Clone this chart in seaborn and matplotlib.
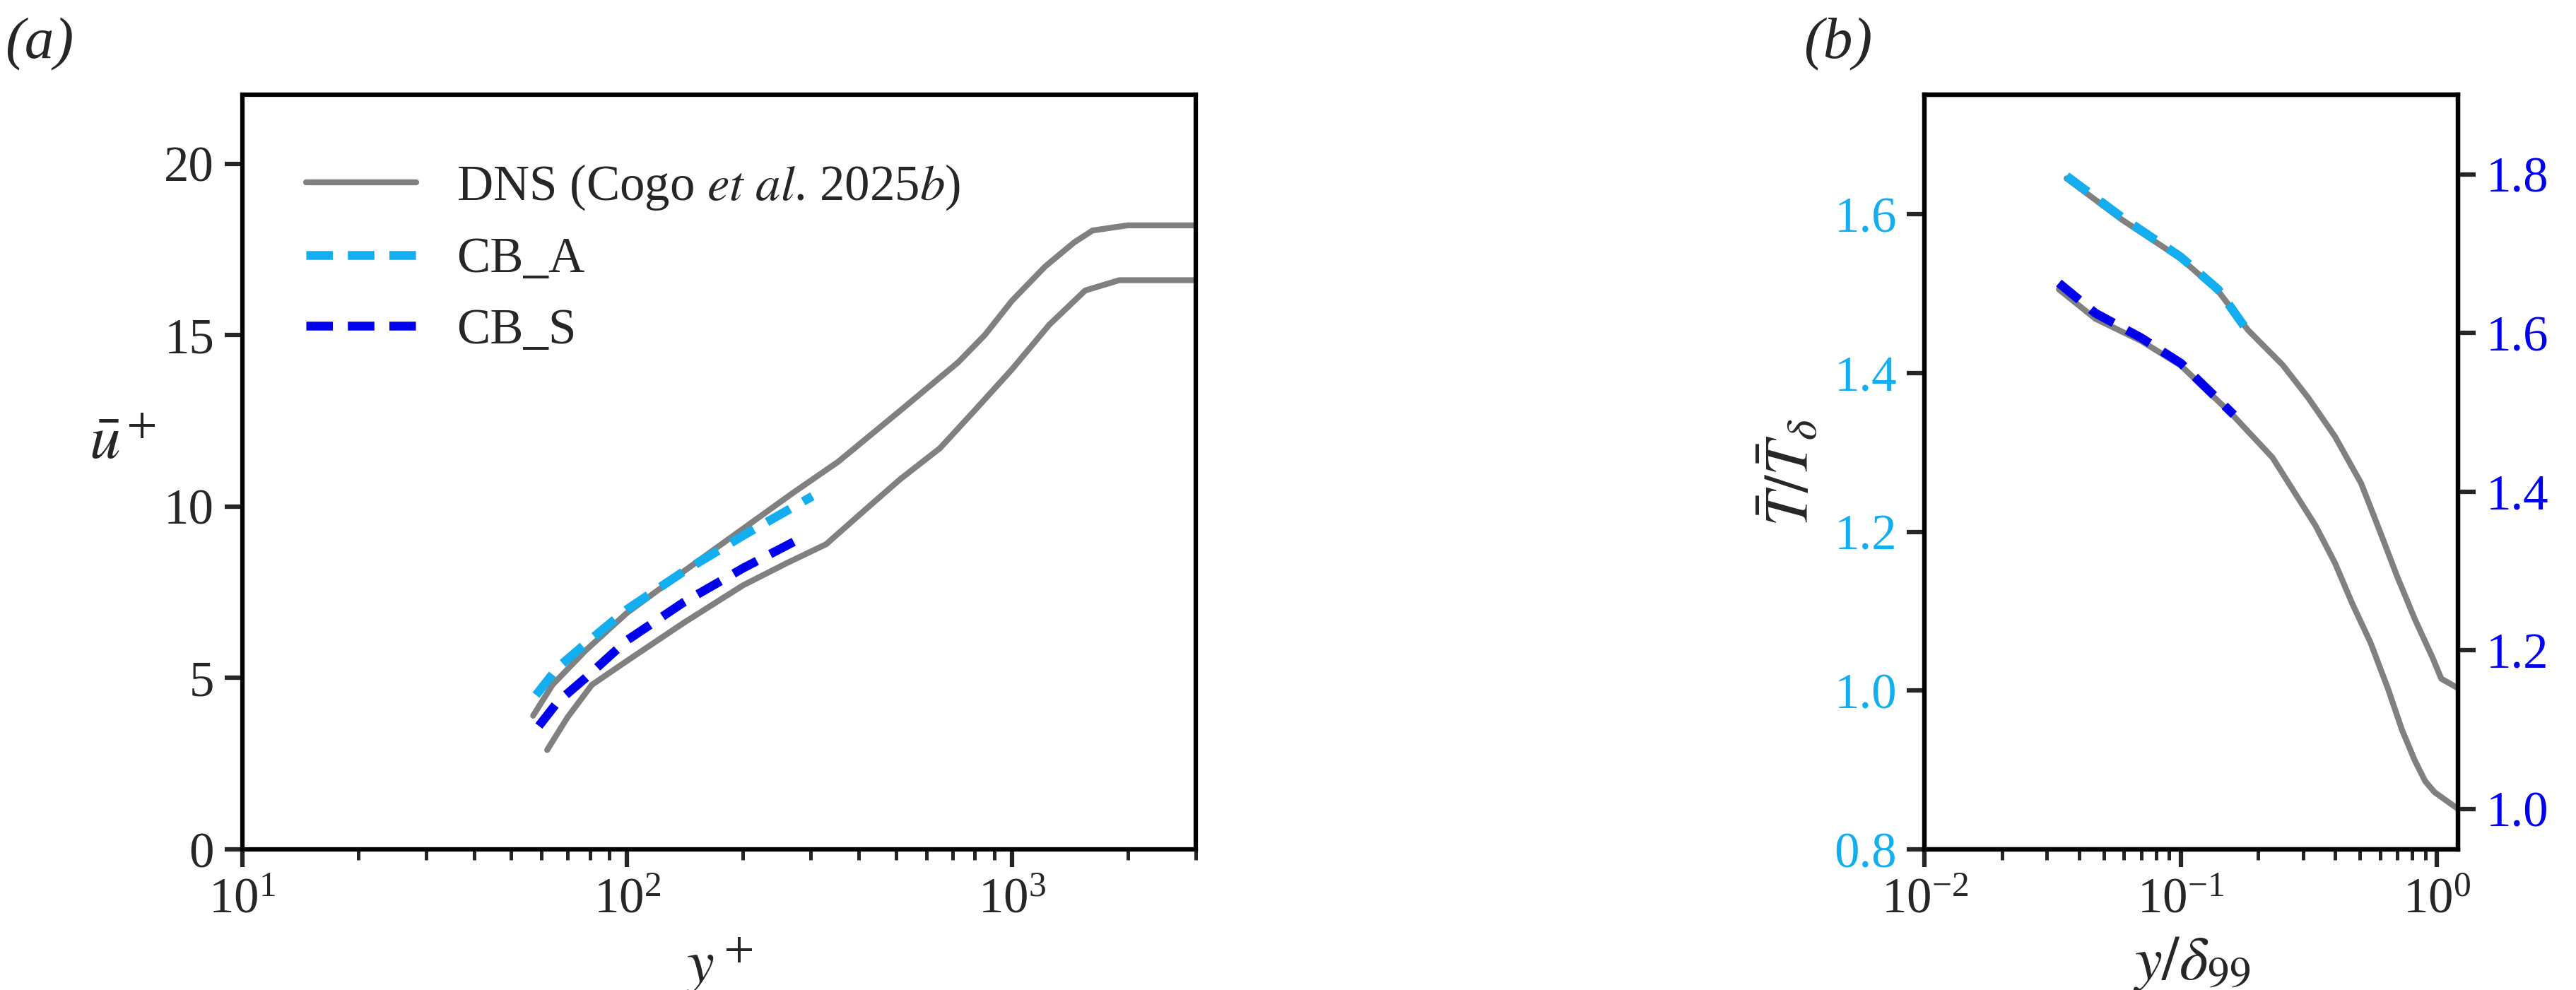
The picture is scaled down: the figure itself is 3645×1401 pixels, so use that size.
import numpy as np
import pandas as pd
import seaborn as sns
import matplotlib.pyplot as plt

sns.set_theme(style="ticks")
plt.rcParams["font.family"] = ["Liberation Serif", "DejaVu Serif"]
plt.rcParams["mathtext.fontset"] = "stix"
plt.rcParams["font.size"] = 17

GRAY = "#808080"
C_A = "#12AEF0"
C_S = "#0000EE"

# panel (a): u+ vs y+
dns_up_x = [57, 64, 78, 100, 140, 200, 270, 353, 513, 724, 850, 1000, 1220, 1450, 1620, 2000, 3000]
dns_up_y = [3.9, 4.8, 5.8, 6.9, 8.1, 9.35, 10.4, 11.3, 12.8, 14.2, 15.0, 16.0, 17.0, 17.7, 18.05, 18.2, 18.2]
dns_lo_x = [62, 70, 81, 100, 140, 200, 260, 329, 420, 513, 650, 800, 1000, 1250, 1550, 1900, 3000]
dns_lo_y = [2.9, 3.85, 4.8, 5.5, 6.6, 7.7, 8.35, 8.9, 9.95, 10.8, 11.7, 12.8, 14.0, 15.3, 16.3, 16.6, 16.6]
cba_x = [58, 66, 78, 100, 140, 200, 303]
cba_y = [4.5, 5.3, 6.0, 7.0, 8.1, 9.15, 10.3]
cbs_x = [59, 66, 78, 100, 140, 200, 291]
cbs_y = [3.6, 4.3, 5.0, 6.1, 7.2, 8.2, 9.15]

# panel (b): T/T_delta vs y/delta99
tb_up_x = [0.0358, 0.0589, 0.1, 0.14, 0.183, 0.25, 0.314, 0.4, 0.506, 0.6, 0.697, 0.82, 0.96, 1.04, 1.21]
tb_up_y = [1.645, 1.593, 1.544, 1.503, 1.454, 1.41, 1.369, 1.32, 1.261, 1.2, 1.145, 1.09, 1.042, 1.015, 1.003]
tb_lo_x = [0.0334, 0.0464, 0.07, 0.1, 0.159, 0.228, 0.336, 0.4, 0.467, 0.55, 0.645, 0.73, 0.82, 0.9, 0.98, 1.21]
tb_lo_y = [1.655, 1.618, 1.59, 1.559, 1.497, 1.443, 1.357, 1.31, 1.259, 1.21, 1.151, 1.1, 1.061, 1.035, 1.021, 1.0]
tba_x = [0.0358, 0.0589, 0.1, 0.14, 0.183]
tba_y = [1.648, 1.596, 1.546, 1.505, 1.452]
tbs_x = [0.0334, 0.0464, 0.07, 0.1, 0.161]
tbs_y = [1.663, 1.625, 1.594, 1.562, 1.497]

fig = plt.figure(figsize=(12.153, 4.67), dpi=300)
ax1 = fig.add_axes([0.094, 0.142, 0.370, 0.762])
ax2 = fig.add_axes([0.747, 0.142, 0.207, 0.762])


def line(ax, x, y, color, dashed=False, label=None):
    df = pd.DataFrame({"x": x, "y": y})
    sns.lineplot(data=df, x="x", y="y", ax=ax, color=color, sort=False,
                 lw=3.0 if dashed else 2.0, label=label, estimator=None,
                 linestyle=(0, (3, 1.7)) if dashed else "-")


line(ax1, dns_up_x, dns_up_y, GRAY, label=r"DNS (Cogo $\it{et\ al}$. 2025$\it{b}$)")
line(ax1, dns_lo_x, dns_lo_y, GRAY)
line(ax1, cba_x, cba_y, C_A, True, "CB_A")
line(ax1, cbs_x, cbs_y, C_S, True, "CB_S")
ax1.set_xscale("log")
ax1.set_xlim(10, 3000)
ax1.set_ylim(0, 22)
ax1.set_yticks([0, 5, 10, 15, 20])
ax1.set_xlabel(r"$y^+$", fontsize=21)
ax1.set_ylabel(r"$\bar{u}^+$", fontsize=21, rotation=0, labelpad=14)
ax1.legend(loc="upper left", frameon=False, fontsize=17, handlelength=2.2,
           bbox_to_anchor=(0.02, 0.97))

line(ax2, tb_up_x, tb_up_y, GRAY)
line(ax2, tba_x, tba_y, C_A, True)
ax2.set_xscale("log")
ax2.set_xlim(0.01, 1.21)
ax2.set_ylim(0.8, 1.75)
ax2.set_yticks([0.8, 1.0, 1.2, 1.4, 1.6])
ax2.yaxis.set_major_formatter(plt.FormatStrFormatter("%.1f"))
ax2.tick_params(axis="y", labelcolor=C_A)
ax2.set_xlabel(r"$y/\delta_{99}$", fontsize=21)
ax2.set_ylabel(r"$\bar{T}/\bar{T}_\delta$", fontsize=21)

ax3 = ax2.twinx()
line(ax3, tb_lo_x, tb_lo_y, GRAY)
line(ax3, tbs_x, tbs_y, C_S, True)
ax3.set_ylim(0.949, 1.90)
ax3.set_yticks([1.0, 1.2, 1.4, 1.6, 1.8])
ax3.yaxis.set_major_formatter(plt.FormatStrFormatter("%.1f"))
ax3.tick_params(axis="y", labelcolor=C_S)
ax3.set_ylabel("")

for ax in (ax1, ax2, ax3):
    ax.tick_params(which="major", direction="out", length=6, width=1.5, labelsize=17)
    ax.tick_params(which="minor", direction="out", length=3.5, width=1.2)
    for s in ax.spines.values():
        s.set_linewidth(1.5)
        s.set_color("black")

fig.text(0.002, 0.955, "(a)", fontsize=20, style="italic", va="center")
fig.text(0.70, 0.955, "(b)", fontsize=20, style="italic", va="center")

fig.savefig("out.png", dpi=300)
